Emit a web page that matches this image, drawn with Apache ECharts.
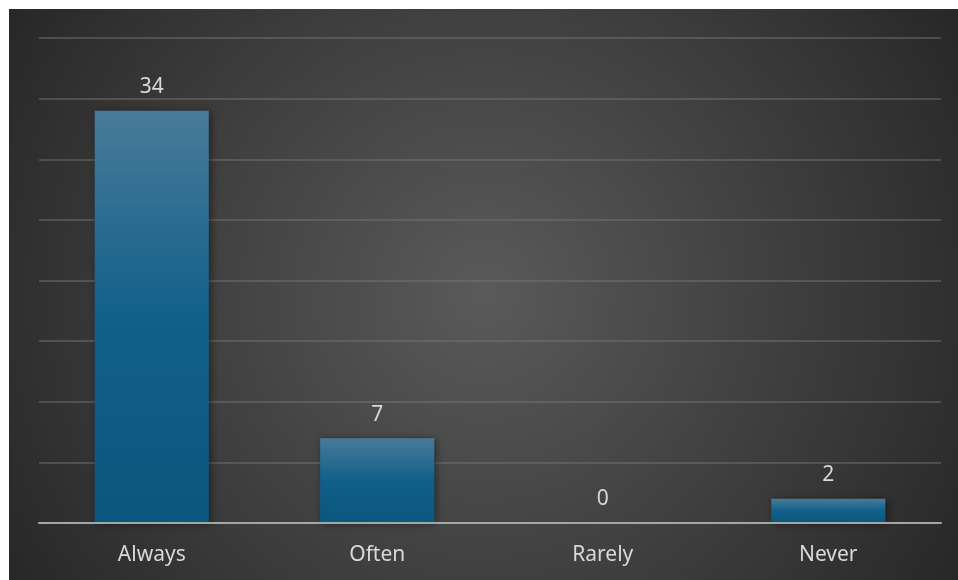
<!DOCTYPE html>
<html>
<head>
<meta charset="utf-8">
<script src="https://cdn.jsdelivr.net/npm/echarts@6/dist/echarts.min.js"></script>
<style>
  html, body { margin: 0; padding: 0; background: #ffffff; }
  #chart { position: absolute; left: 9px; top: 9px; width: 949px; height: 571px; }
</style>
</head>
<body>
<div id="chart"></div>
<script>
// Survey answers: how often the behaviour happens
const categories = ['Always', 'Often', 'Rarely', 'Never'];
const counts = [34, 7, 0, 2];
const axisMin = 0;
const axisMax = 40;
const axisStep = 5;

const chart = echarts.init(document.getElementById('chart'), null, { renderer: 'canvas' });

const labelFont = '"Noto Sans", "Open Sans", sans-serif';

chart.setOption({
  backgroundColor: 'transparent',
  animation: false,
  graphic: [{
    type: 'rect',
    z: -10,
    silent: true,
    shape: { x: 0, y: 0, width: 949, height: 571 },
    style: {
      fill: {
        type: 'radial', global: true, x: 475, y: 285, r: 560,
        colorStops: [
          { offset: 0, color: '#5a5a5a' },
          { offset: 1, color: '#272727' }
        ]
      }
    }
  }],
  grid: { left: 30, right: 17, top: 29, bottom: 57 },
  xAxis: {
    type: 'category',
    data: categories,
    axisLine: { lineStyle: { color: '#a6a6a6', width: 2 } },
    axisTick: { show: false },
    axisLabel: {
      color: '#d9d9d9', fontSize: 21, margin: 22,
      fontFamily: labelFont
    },
    z: 5
  },
  yAxis: {
    type: 'value',
    min: axisMin, max: axisMax, interval: axisStep,
    axisLabel: { show: false },
    axisLine: { show: false },
    axisTick: { show: false },
    splitLine: { lineStyle: { color: 'rgba(120,120,120,0.45)', width: 2 } }
  },
  series: [{
    type: 'bar',
    data: counts,
    barWidth: '50.6%',
    itemStyle: {
      color: {
        type: 'linear', x: 0, y: 0, x2: 0, y2: 1,
        colorStops: [
          { offset: 0, color: '#497a9a' },
          { offset: 0.5, color: '#11608a' },
          { offset: 1, color: '#0a577d' }
        ]
      },
      shadowColor: 'rgba(0,0,0,0.45)',
      shadowBlur: 8,
      shadowOffsetX: 2,
      shadowOffsetY: 1
    },
    label: {
      show: true,
      position: 'top',
      distance: 13,
      color: '#d9d9d9',
      fontSize: 21,
      fontFamily: labelFont
    }
  }]
});
</script>
</body>
</html>
